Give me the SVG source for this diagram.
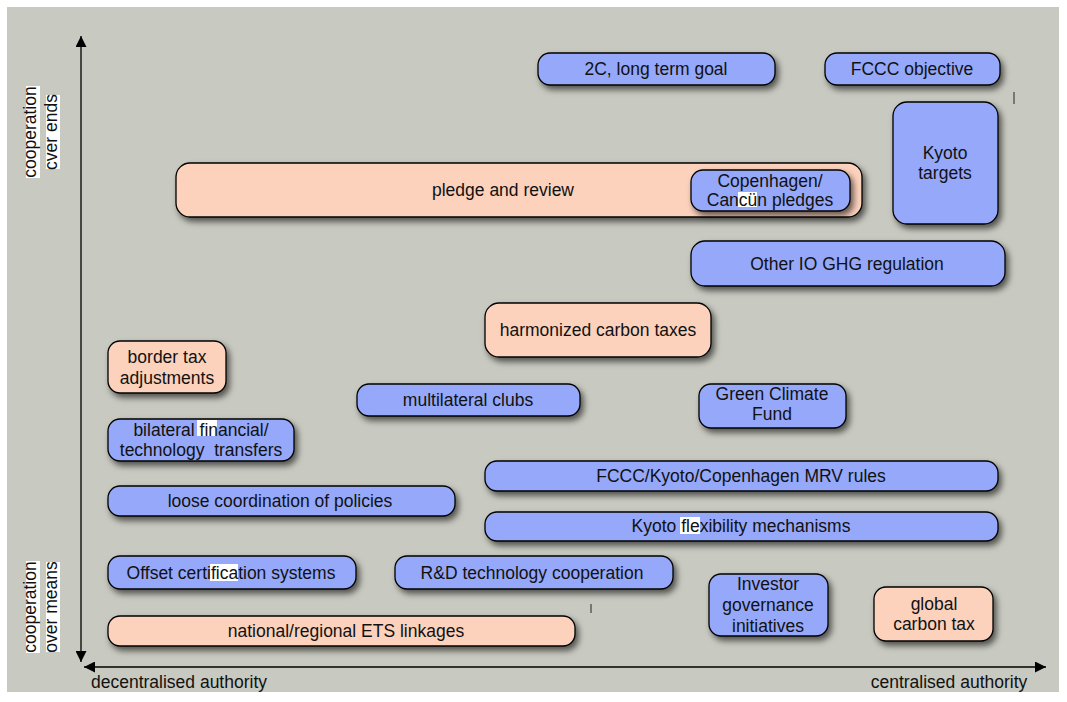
<svg xmlns="http://www.w3.org/2000/svg" width="1067" height="702" viewBox="0 0 1067 702">
<defs>
<filter id="sh" x="-20%" y="-30%" width="140%" height="170%">
<feDropShadow dx="3" dy="4" stdDeviation="3" flood-color="#000" flood-opacity="0.6"/>
</filter>
<marker id="ah" viewBox="0 0 10 10" refX="10" refY="5" markerWidth="11" markerHeight="11" markerUnits="userSpaceOnUse" orient="auto-start-reverse">
<path d="M0,0 L10,5 L0,10 z" fill="#000"/>
</marker>
<style>
text{font-family:"Liberation Sans",Arial,sans-serif;font-size:17.5px;fill:#111;text-anchor:middle;white-space:pre}
.b{fill:#95a8fa;stroke:#000;stroke-width:1.3;filter:url(#sh)}
.p{fill:#fcd2bd;stroke:#000;stroke-width:1.3;filter:url(#sh)}
.hl{fill:#fff}
.ax{stroke:#000;stroke-width:1.3;fill:none}
</style>
</defs>
<rect x="0" y="0" width="1067" height="702" fill="#fff"/>
<rect x="7" y="7" width="1052" height="685" fill="#c8c9c0"/>
<rect x="1013" y="92" width="2" height="12" fill="#777"/>
<rect x="590" y="604" width="2" height="9" fill="#777"/>

<g id="axes">
<line class="ax" x1="81" y1="36" x2="81" y2="662" marker-start="url(#ah)" marker-end="url(#ah)"/>
<line class="ax" x1="84" y1="667" x2="1046" y2="667" marker-start="url(#ah)" marker-end="url(#ah)"/>
<text x="179" y="688">decentralised authority</text>
<text x="949" y="688">centralised authority</text>
<g transform="translate(40,132) rotate(-90)">
<rect class="hl" x="-46" y="-14" width="92" height="14"/>
<rect class="hl" x="-37" y="6" width="74" height="14"/>
<text x="0" y="-4">cooperation</text>
<text x="0" y="17">cver ends</text>
</g>
<g transform="translate(40,607) rotate(-90)">
<rect class="hl" x="-46" y="-14" width="92" height="14"/>
<rect class="hl" x="-45" y="6" width="90" height="14"/>
<text x="0" y="-4">cooperation</text>
<text x="0" y="17">over means</text>
</g>
</g>

<g id="n-2c"><rect class="b" x="538" y="53" width="237" height="32" rx="12"/><text x="656" y="75">2C, long term goal</text></g>
<g id="n-fccc"><rect class="b" x="825" y="53" width="175" height="32" rx="12"/><text x="912" y="75">FCCC objective</text></g>
<g id="n-kyoto-targets"><rect class="b" x="893" y="102" width="105" height="122" rx="14"/><text x="945" y="159">Kyoto</text><text x="945" y="179">targets</text></g>
<g id="n-pledge"><rect class="p" x="176" y="163" width="686" height="54" rx="14"/><text x="503" y="196">pledge and review</text></g>
<g id="n-copenhagen"><rect class="b" x="691" y="170" width="159" height="41" rx="12"/><rect class="hl" x="738" y="192" width="19" height="15"/><text x="770" y="187">Copenhagen/</text><text x="770" y="206">Cancün pledges</text></g>
<g id="n-otherio"><rect class="b" x="691" y="241" width="314" height="45" rx="14"/><text x="847" y="270">Other IO GHG regulation</text></g>
<g id="n-harmonized"><rect class="p" x="485" y="303" width="226" height="54" rx="14"/><text x="598" y="336">harmonized carbon taxes</text></g>
<g id="n-border"><rect class="p" x="108" y="341" width="118" height="52" rx="12"/><text x="167" y="363">border tax</text><text x="167" y="384">adjustments</text></g>
<g id="n-multilateral"><rect class="b" x="357" y="384" width="223" height="32" rx="12"/><text x="468" y="406">multilateral clubs</text></g>
<g id="n-gcf"><rect class="b" x="699" y="384" width="147" height="44" rx="12"/><text x="772" y="400">Green Climate</text><text x="772" y="420">Fund</text></g>
<g id="n-bilateral"><rect class="b" x="108" y="419" width="186" height="42" rx="12"/><rect class="hl" x="197" y="420" width="20" height="16"/><text x="201" y="436">bilateral financial/</text><text x="201" y="456">technology  transfers</text></g>
<g id="n-mrv"><rect class="b" x="485" y="461" width="513" height="30" rx="12"/><text x="741" y="482">FCCC/Kyoto/Copenhagen MRV rules</text></g>
<g id="n-loose"><rect class="b" x="108" y="486" width="347" height="30" rx="12"/><text x="280" y="507">loose coordination of policies</text></g>
<g id="n-flex"><rect class="b" x="485" y="512" width="513" height="29" rx="12"/><rect class="hl" x="680" y="517" width="20" height="17"/><text x="741" y="532">Kyoto flexibility mechanisms</text></g>
<g id="n-offset"><rect class="b" x="108" y="556" width="248" height="33" rx="12"/><rect class="hl" x="210" y="564" width="28" height="17"/><text x="231" y="579">Offset certification systems</text></g>
<g id="n-rd"><rect class="b" x="395" y="556" width="278" height="33" rx="12"/><text x="532" y="579">R&amp;D technology cooperation</text></g>
<g id="n-investor"><rect class="b" x="709" y="574" width="119" height="62" rx="12"/><text x="768" y="590">Investor</text><text x="768" y="611">governance</text><text x="768" y="632">initiatives</text></g>
<g id="n-globaltax"><rect class="p" x="874" y="587" width="119" height="54" rx="12"/><text x="934" y="610">global</text><text x="934" y="630">carbon tax</text></g>
<g id="n-ets"><rect class="p" x="108" y="616" width="467" height="30" rx="12"/><text x="346" y="637">national/regional ETS linkages</text></g>
</svg>
